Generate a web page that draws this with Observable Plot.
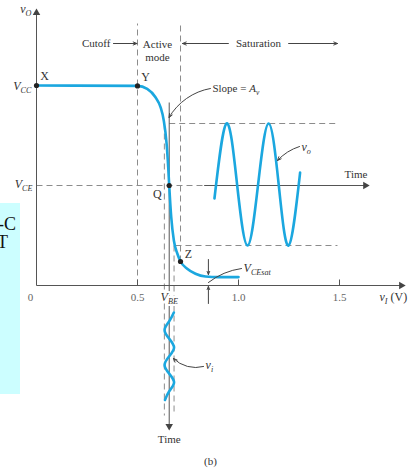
<!DOCTYPE html>
<html>
<head>
<meta charset="utf-8">
<script src="https://cdn.jsdelivr.net/npm/d3@7"></script>
<script src="https://cdn.jsdelivr.net/npm/@observablehq/plot@0.6"></script>
<style>
  html, body { margin: 0; padding: 0; background: #fff; }
  #figure { position: relative; width: 408px; height: 469px; overflow: hidden; background: #fff; }
  #figure svg { display: block; }
  #figure svg text { paint-order: stroke; }
  #side { position: absolute; left: 0; top: 203px; width: 20px; height: 191px; background: #ccfeff; overflow: hidden;
          font-family: "Liberation Serif", "Times New Roman", serif; font-size: 18px; line-height: 18px; color: #111; }
  #side span { position: absolute; white-space: nowrap; }
</style>
</head>
<body>
<div id="figure">
  <div id="side"><span style="left:-2px;top:12px">-C</span><span style="left:-3px;top:30px">T</span></div>
</div>
<script>
// Voltage transfer characteristic of the common-emitter amplifier, v_O against v_I (V)
const transferVI = [0, 0.50, 0.548, 0.589, 0.614, 0.630, 0.644, 0.652, 0.657, 0.667, 0.680, 0.697, 0.713, 0.746, 0.787, 0.837, 0.90, 1.0];
const transferVO = [10, 9.98, 9.83, 9.41, 8.92, 8.25, 7.10, 5.92, 5.0, 3.42, 2.25, 1.60, 1.20, 0.84, 0.59, 0.45, 0.42, 0.42];

// Key levels
const VCC = 10, VCE = 5, VBE = 0.657, VCEsat = 0.42;
const viSwing = [0.633, 0.681];   // input signal peaks on the v_I axis
const voSwing = [8.1, 2.0];       // corresponding output peaks

// Marked points on the characteristic
const pointNames = ["X", "Y", "Q", "Z"];
const pointVI = [0, 0.5, 0.657, 0.713];
const pointVO = [10, 9.98, 5, 1.2];

// Output signal v_o, time running to the right
const voTime = [0.881, 0.941, 0.993, 1.045, 1.097, 1.149, 1.199, 1.248, 1.305];
const voValue = [4.35, 8.1, 5.05, 2.0, 5.05, 8.1, 5.05, 2.0, 5.65];

// Input signal v_i, time running downward
const viTime = [-1.35, -1.79, -2.225, -2.66, -3.1, -3.54, -3.975, -4.41, -4.85, -5.29, -5.725];
const viValue = [0.680, 0.657, 0.634, 0.657, 0.681, 0.657, 0.634, 0.657, 0.681, 0.657, 0.636];

// v_I axis ticks
const tickValues = [0.5, 1.0, 1.5];
const tickLabels = ["0.5", "1.0", "1.5"];

// Operating regions
const regionNames = ["Cutoff", "Active\nmode", "Saturation"];

// Extents of axes and guides
const xAxisEnd = 1.827, yAxisEnd = 13.85;
const guideTop = 13.1, guideBottom = -6.5, swingEnd = 1.49;
const outTimeStart = 0.83, outTimeEnd = 1.649;
const inTimeStart = 9.15, inTimeEnd = -7.25;
const regionLevel = 12.1;

const curveColor = "#1ba7df";
const ink = "#333";
const axisInk = "#555";
const guideInk = "#8c8c8c";
const serif = "'Liberation Serif', 'Times New Roman', serif";

const seg = (x1, y1, x2, y2) => ({x1, y1, x2, y2});

const dashed = [
  seg(0.5, 0, 0.5, guideTop),
  seg(pointVI[3], pointVO[3], pointVI[3], guideTop),
  seg(viSwing[0], voSwing[0], viSwing[0], guideBottom),
  seg(viSwing[1], voSwing[1], viSwing[1], guideBottom),
  seg(0, VCE, outTimeStart, VCE),
  seg(VBE, voSwing[0], swingEnd, voSwing[0]),
  seg(0.688, voSwing[1], swingEnd, voSwing[1])
];

const solid = [
  seg(0, 0, xAxisEnd - 0.02, 0),
  seg(0, 0, 0, yAxisEnd - 0.2),
  seg(outTimeStart, VCE, outTimeEnd - 0.02, VCE),
  seg(VBE, inTimeStart, VBE, inTimeEnd + 0.2)
];

// filled arrowheads: the triangle centroid sits a few pixels behind each tip
const heads = [
  {x: 0, y: yAxisEnd - 0.215, rotate: 0},
  {x: xAxisEnd - 0.021, y: 0, rotate: 90},
  {x: outTimeEnd - 0.021, y: VCE, rotate: 90},
  {x: VBE, y: inTimeEnd + 0.215, rotate: 180}
];

const transfer = transferVI.map((v, i) => ({v, o: transferVO[i]}));
const outWave = voTime.map((t, i) => ({t, o: voValue[i]}));
const inWave = viTime.map((t, i) => ({t, v: viValue[i]}));
const points = pointNames.map((name, i) => ({name, v: pointVI[i], o: pointVO[i]}));

const pointLabel = (i, dx, dy) =>
  Plot.text([points[i]], {x: "v", y: "o", text: "name", dx, dy, fontSize: 12, fill: ink});

const arrowOpts = {stroke: "#444", strokeWidth: 1, headLength: 6, headAngle: 45};

const svg = Plot.plot({
  width: 408,
  height: 469,
  margin: 0,
  x: {type: "linear", domain: [0, 1], range: [36, 238], axis: null},
  y: {type: "linear", domain: [0, 10], range: [285, 85], axis: null},
  style: {fontFamily: serif, fontSize: "11px", color: ink, background: "transparent"},
  marks: [
    // guides
    Plot.link(dashed, {x1: "x1", y1: "y1", x2: "x2", y2: "y2", stroke: guideInk, strokeWidth: 1, strokeDasharray: "6,4"}),
    // axes and time axes
    Plot.link(solid, {x1: "x1", y1: "y1", x2: "x2", y2: "y2", stroke: axisInk, strokeWidth: 1}),
    Plot.link(tickValues, {x1: d => d, x2: d => d, y1: 0, y2: 0.3, stroke: axisInk, strokeWidth: 1}),
    Plot.dot(heads, {x: "x", y: "y", rotate: "rotate", symbol: "triangle", r: 2.8, fill: "#444", stroke: null}),

    // transfer characteristic and signals
    Plot.line(transfer, {x: "v", y: "o", curve: "monotone-x", stroke: curveColor, strokeWidth: 2.6}),
    Plot.line(outWave, {x: "t", y: "o", curve: "natural", stroke: curveColor, strokeWidth: 2.6}),
    Plot.line(inWave, {x: "v", y: "t", curve: "natural", stroke: curveColor, strokeWidth: 2.6}),
    Plot.dot(points, {x: "v", y: "o", r: 2.6, fill: "#222", stroke: null}),

    // point labels
    pointLabel(0, 8, -9),
    pointLabel(1, 8, -9),
    pointLabel(2, -12, 9),
    pointLabel(3, 8, -7),

    // v_O axis labels
    Plot.text(["v_O"], {x: 0, y: yAxisEnd, text: d => d, dx: -5, dy: 1, textAnchor: "end", fontSize: 12, fill: ink}),
    Plot.text(["V_CC"], {x: 0, y: VCC, text: d => d, dx: -5, dy: 1, textAnchor: "end", fontSize: 12, fill: ink}),
    Plot.text(["V_CE"], {x: 0, y: VCE, text: d => d, dx: -4, dy: -1, textAnchor: "end", fontSize: 12, fill: ink}),

    // v_I axis labels
    Plot.text(["0"], {x: 0, y: 0, text: d => d, dx: -6, dy: 12, fontSize: 11, fill: "#666"}),
    Plot.text(tickValues, {x: d => d, y: 0, text: (d, i) => tickLabels[i], dy: 12, fontSize: 11, fill: "#666"}),
    Plot.text(["V_BE"], {x: VBE, y: 0, text: d => d, dy: 12, fontSize: 12, fill: ink, stroke: "white", strokeWidth: 4}),
    Plot.text(["v_I (V)"], {x: 1.698, y: 0, text: d => d, dy: 12, textAnchor: "start", fontSize: 12, fill: ink}),

    // operating regions
    Plot.text([regionNames[0]], {x: 0.366, y: regionLevel, text: d => d, textAnchor: "end", fontSize: 11, fill: ink}),
    Plot.arrow([0], {x1: 0.381, y1: regionLevel, x2: 0.497, y2: regionLevel, ...arrowOpts}),
    Plot.text([regionNames[1]], {x: 0.599, y: regionLevel - 0.33, text: d => d, lineHeight: 1.2, fontSize: 11, fill: ink}),
    Plot.text([regionNames[2]], {x: 1.099, y: regionLevel, text: d => d, fontSize: 11, fill: ink}),
    Plot.arrow([0], {x1: 0.95, y1: regionLevel, x2: 0.723, y2: regionLevel, ...arrowOpts}),
    Plot.arrow([0], {x1: 1.248, y1: regionLevel, x2: 1.49, y2: regionLevel, ...arrowOpts}),

    // slope annotation
    Plot.text(["Slope = A_v"], {x: 0.871, y: 9.85, text: d => d, textAnchor: "start", fontSize: 11, fill: ink}),
    Plot.arrow([0], {x1: 0.861, y1: 9.85, x2: 0.656, y2: 8.4, bend: -25, ...arrowOpts}),

    // output signal annotation
    Plot.text(["Time"], {x: 1.525, y: 5.55, text: d => d, textAnchor: "start", fontSize: 11, fill: ink}),
    Plot.text(["v_o"], {x: 1.312, y: 6.9, text: d => d, textAnchor: "start", fontSize: 12, fill: ink}),
    Plot.arrow([0], {x1: 1.302, y1: 6.95, x2: 1.193, y2: 6.25, bend: -15, ...arrowOpts}),

    // saturation voltage annotation
    Plot.arrow([0], {x1: 0.851, y1: 1.3, x2: 0.851, y2: 0.55, ...arrowOpts, headLength: 5}),
    Plot.arrow([0], {x1: 0.851, y1: -0.9, x2: 0.851, y2: -0.05, ...arrowOpts, headLength: 5}),
    Plot.arrow([0], {x1: 1.015, y1: 0.85, x2: 0.851, y2: 0.15, bend: -15, stroke: "#444", strokeWidth: 1, headLength: 0}),
    Plot.text(["V_CEsat"], {x: 1.025, y: 0.85, text: d => d, textAnchor: "start", fontSize: 12, fill: ink}),

    // input signal annotation
    Plot.text(["v_i"], {x: 0.837, y: -4.0, text: d => d, textAnchor: "start", fontSize: 12, fill: ink}),
    Plot.arrow([0], {x1: 0.827, y1: -4.05, x2: 0.678, y2: -3.65, bend: 30, ...arrowOpts}),
    Plot.text(["Time"], {x: VBE, y: inTimeEnd - 0.45, text: d => d, fontSize: 11, fill: ink}),

    // figure part label
    Plot.text(["(b)"], {x: 0.861, y: -8.8, text: d => d, fontSize: 11, fill: ink})
  ]
});

// Turn "V_CC"-style strings into an italic symbol with a subscript
function richText(root) {
  const NS = "http://www.w3.org/2000/svg";
  root.querySelectorAll("text").forEach(t => {
    if (t.children.length) return;
    const s = t.textContent;
    if (!s.includes("_")) return;
    t.textContent = "";
    let lowered = false;
    const add = (str, {italic = false, sub = false} = {}) => {
      const sp = document.createElementNS(NS, "tspan");
      sp.textContent = str;
      if (italic) sp.setAttribute("font-style", "italic");
      if (sub) {
        sp.setAttribute("font-size", "0.68em");
        if (!lowered) sp.setAttribute("dy", "3");
        lowered = true;
      } else if (lowered) {
        sp.setAttribute("dy", "-3");
        lowered = false;
      }
      t.appendChild(sp);
    };
    const re = /([A-Za-z])_([A-Za-z]+)/g;
    let last = 0, m;
    while ((m = re.exec(s))) {
      if (m.index > last) add(s.slice(last, m.index));
      add(m[1], {italic: true});
      add(m[2], {italic: true, sub: true});
      last = re.lastIndex;
    }
    if (last < s.length) add(s.slice(last));
  });
}

richText(svg);
document.getElementById("figure").prepend(svg);
</script>
</body>
</html>
